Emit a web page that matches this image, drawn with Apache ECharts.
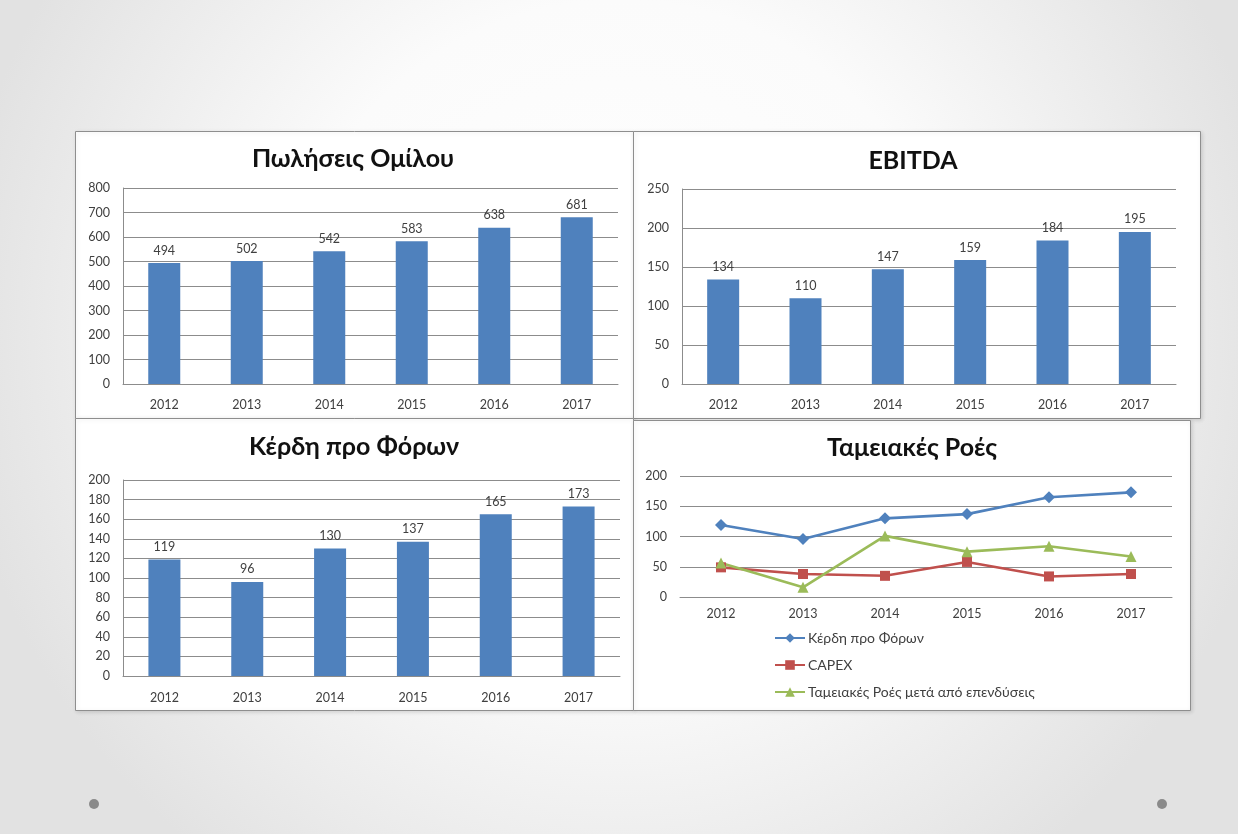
<!DOCTYPE html>
<html>
<head>
<meta charset="utf-8">
<script src="https://cdn.jsdelivr.net/npm/echarts@6/dist/echarts.min.js"></script>
<style>
  html, body { margin: 0; padding: 0; width: 1238px; height: 834px; overflow: hidden; }
  #chart { width: 1238px; height: 834px; }
</style>
</head>
<body>
<div id="chart"></div>
<script>
// Financial overview 2012–2017
const years = ['2012', '2013', '2014', '2015', '2016', '2017'];
const sales = [494, 502, 542, 583, 638, 681];          // Πωλήσεις Ομίλου
const ebitda = [134, 110, 147, 159, 184, 195];         // EBITDA
const ebt = [119, 96, 130, 137, 165, 173];             // Κέρδη προ Φόρων
const capex = [49, 38, 35, 58, 34, 38];                // CAPEX
const cashAfterInv = [56, 16, 101, 75, 84, 67];        // Ταμειακές Ροές μετά από επενδύσεις

const titles = ['Πωλήσεις Ομίλου', 'EBITDA', 'Κέρδη προ Φόρων', 'Ταμειακές Ροές'];
const seriesNames = ['Κέρδη προ Φόρων', 'CAPEX', 'Ταμειακές Ροές μετά από επενδύσεις'];

const FONT = 'Lato, "Noto Sans", sans-serif';
const TEXT = '#404040';
const GRID_LINE = '#8c8c8c';
const BLUE = '#4f81bd';
const RED = '#c0504d';
const GREEN = '#9bbb59';

const chart = echarts.init(document.getElementById('chart'), null, { renderer: 'canvas' });

function xAxis(gridIndex, margin) {
  return {
    type: 'category', gridIndex, data: years,
    axisLine: { show: true, lineStyle: { color: GRID_LINE, width: 1 } },
    axisTick: { show: false },
    axisLabel: { color: TEXT, fontFamily: FONT, fontSize: 12.5, margin }
  };
}
function yAxis(gridIndex, max, interval, showLine) {
  return {
    type: 'value', gridIndex, min: 0, max, interval,
    axisLine: { show: showLine, lineStyle: { color: GRID_LINE, width: 1 } },
    axisTick: { show: false },
    splitLine: { show: true, lineStyle: { color: GRID_LINE, width: 1 } },
    axisLabel: { color: TEXT, fontFamily: FONT, fontSize: 12.5, margin: 13 }
  };
}
function barSeries(idx, data) {
  return {
    type: 'bar', xAxisIndex: idx, yAxisIndex: idx, data, barWidth: 32,
    itemStyle: { color: BLUE },
    label: { show: true, position: 'top', distance: 6, color: TEXT, fontFamily: FONT, fontSize: 12.5 }
  };
}
function lineSeries(name, data, color, symbol, size) {
  return {
    type: 'line', name, xAxisIndex: 3, yAxisIndex: 3, data,
    symbol, symbolSize: size,
    lineStyle: { color, width: 2.6 },
    itemStyle: { color },
    z: 3
  };
}

// Panel frames: [x, y, w, h]
const panels = [
  [75, 131, 558, 287],
  [633, 131, 567, 287],
  [75, 418, 558, 292],
  [633, 420, 557, 290]
];
const titlePos = [[353, 159], [913, 161], [354, 447], [912, 448]];

const graphics = [];
panels.forEach(p => {
  graphics.push({
    type: 'rect', z: -10,
    shape: { x: p[0] + 0.5, y: p[1] + 0.5, width: p[2], height: p[3] },
    style: { fill: '#ffffff', stroke: '#8e8e8e', lineWidth: 1,
             shadowColor: 'rgba(0,0,0,0.12)', shadowBlur: 4, shadowOffsetX: 1, shadowOffsetY: 1 }
  });
});
titles.forEach((t, i) => {
  graphics.push({
    type: 'text', z: 10, x: titlePos[i][0], y: titlePos[i][1],
    style: { text: t, fill: '#111111', font: 'bold 25px ' + FONT, textAlign: 'center', textVerticalAlign: 'middle' }
  });
});
// slide ornaments
[[94, 804], [1162, 804]].forEach(c => {
  graphics.push({ type: 'circle', z: -10, shape: { cx: c[0], cy: c[1], r: 5 }, style: { fill: '#8a8a8a' } });
});

chart.setOption({
  animation: false,
  backgroundColor: {
    type: 'radial', x: 0.5, y: 0.4, r: 0.8,
    colorStops: [
      { offset: 0, color: '#ffffff' },
      { offset: 0.5, color: '#fbfbfb' },
      { offset: 1, color: '#e2e2e2' }
    ]
  },
  graphic: { elements: graphics },
  grid: [
    { left: 123, right: 620, top: 188, bottom: 450 },
    { left: 682, right: 62, top: 189, bottom: 450 },
    { left: 123, right: 618, top: 480, bottom: 158 },
    { left: 680, right: 66, top: 476, bottom: 237 }
  ],
  xAxis: [xAxis(0, 14), xAxis(1, 14), xAxis(2, 15), xAxis(3, 10)],
  yAxis: [
    yAxis(0, 800, 100, true),
    yAxis(1, 250, 50, true),
    yAxis(2, 200, 20, true),
    yAxis(3, 200, 50, false)
  ],
  legend: {
    orient: 'vertical', left: 769, top: 626,
    itemWidth: 30, itemHeight: 12, itemGap: 13,
    textStyle: { color: TEXT, fontFamily: FONT, fontSize: 14, padding: [0, 0, 0, -2] },
    data: seriesNames
  },
  series: [
    barSeries(0, sales),
    barSeries(1, ebitda),
    barSeries(2, ebt),
    lineSeries(seriesNames[0], ebt, BLUE, 'diamond', 12),
    lineSeries(seriesNames[1], capex, RED, 'rect', 10),
    lineSeries(seriesNames[2], cashAfterInv, GREEN, 'triangle', 11)
  ]
});
</script>
</body>
</html>
